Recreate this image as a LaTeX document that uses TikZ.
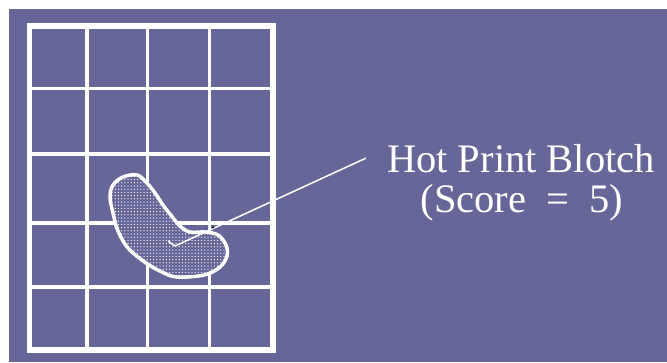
\documentclass[tikz,border=0pt]{standalone}
\usepackage{fontspec}
\setmainfont{Liberation Serif}
\usetikzlibrary{patterns}
\definecolor{bgpurple}{RGB}{102,102,153}
\pgfdeclarepatternformonly{blotchdots}{\pgfqpoint{-1pt}{-1pt}}{\pgfqpoint{1pt}{1pt}}{\pgfqpoint{3.2pt}{3.2pt}}{%
  \pgfpathcircle{\pgfqpoint{0pt}{0pt}}{0.65pt}\pgfusepath{fill}}
\begin{document}
\begin{tikzpicture}[x=1pt,y=-1pt,
  gridline/.style={white,line width=3.5pt},
  frameline/.style={white,line width=5.5pt},
  blob/.style={draw=white,line width=3.5pt,preaction={fill=bgpurple},pattern=blotchdots,pattern color=white},
  leader/.style={white,line width=1.5pt},
  lbl/.style={font=\fontsize{40.5}{40}\selectfont,text=white,anchor=base,inner sep=0pt}]
\useasboundingbox (0,0) rectangle (667,362);
\fill[white] (0,0) rectangle (667,362);
\fill[bgpurple] (9,9) rectangle (667,362);
% grid
\foreach \x in {87,147.7,209.5} \draw[gridline] (\x,26) -- (\x,350);
\foreach \y in {88.3,153.8,223,287.2} \draw[gridline] (29.5,\y) -- (273,\y);
\draw[frameline] (29.5,26) rectangle (273,350);
% blotch
\draw[blob] plot[smooth cycle,tension=0.6] coordinates {
 (123,177) (137,175) (146,182) (155,193) (163,205) (170,214) (180,226)
 (190,232) (205,232) (218,235) (226,245) (227,256) (220,267) (204,275)
 (177,277) (162,272) (146,263) (128,248) (118,231) (113,213) (110,197) (113,185)};
% labels
\node[lbl] (title) at (521,172) {Hot Print Blotch};
\node[lbl] (score) at (522,212) {(Score\ \ =\ \ 5)};
\coordinate (tip) at (175,246);
\draw[leader] ([xshift=-21pt]title.west) -- (tip);
\draw[leader] (tip) -- ++(-7,-5);
\fill[black] (213,227.5) circle (1.1);
\end{tikzpicture}
\end{document}
